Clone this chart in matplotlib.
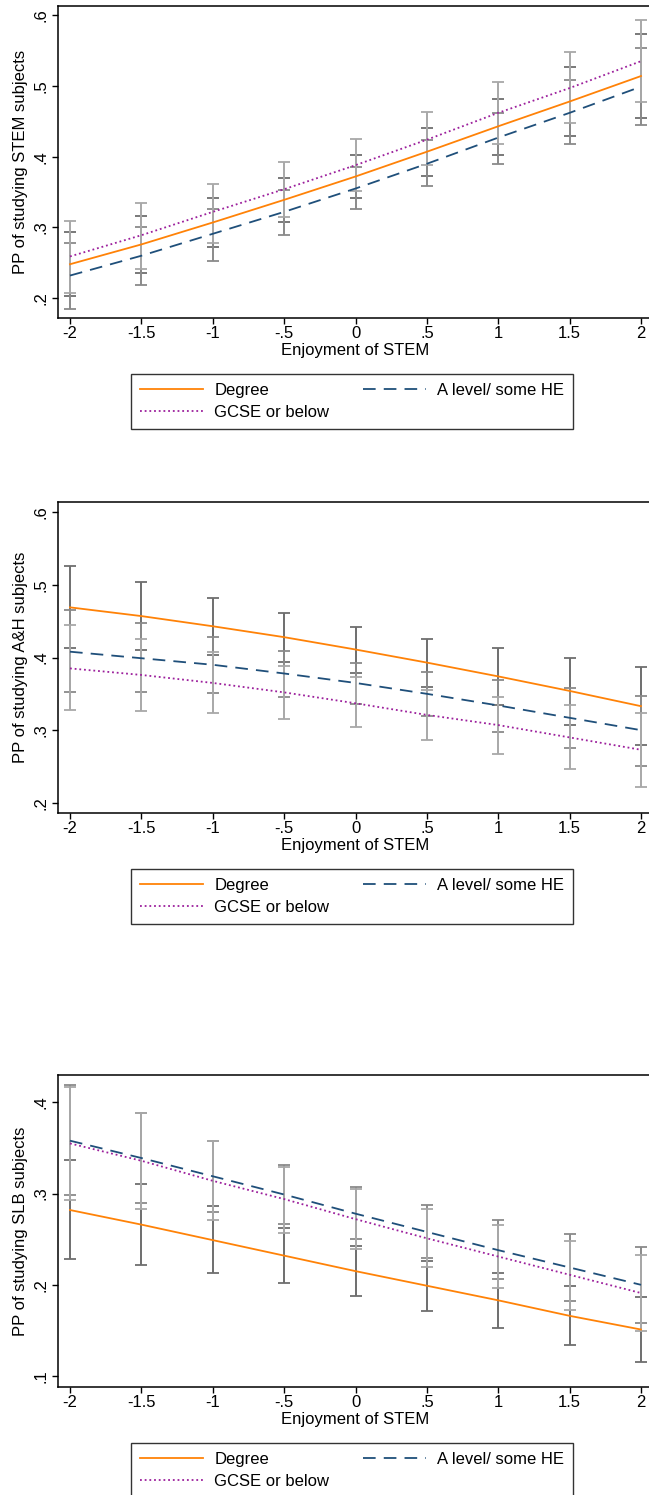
import matplotlib
matplotlib.use('Agg')
import matplotlib.pyplot as plt

plt.rcParams['font.family'] = ['Liberation Sans', 'DejaVu Sans']

# enjoyment of STEM (x positions)
enjoy = [-2, -1.5, -1, -0.5, 0, 0.5, 1, 1.5, 2]
xtick_labels = ['-2', '-1.5', '-1', '-.5', '0', '.5', '1', '1.5', '2']

# panel 1: STEM
stem_degree = [0.248, 0.276, 0.307, 0.339, 0.372, 0.407, 0.443, 0.478, 0.514]
stem_degree_lo = [0.203, 0.236, 0.272, 0.307, 0.341, 0.373, 0.402, 0.429, 0.455]
stem_degree_hi = [0.293, 0.316, 0.342, 0.370, 0.403, 0.441, 0.482, 0.527, 0.573]
stem_alevel = [0.232, 0.260, 0.291, 0.322, 0.355, 0.390, 0.427, 0.462, 0.499]
stem_alevel_lo = [0.185, 0.218, 0.253, 0.289, 0.326, 0.359, 0.390, 0.418, 0.445]
stem_alevel_hi = [0.278, 0.301, 0.326, 0.353, 0.386, 0.424, 0.462, 0.508, 0.554]
stem_gcse = [0.259, 0.289, 0.322, 0.354, 0.388, 0.424, 0.462, 0.497, 0.535]
stem_gcse_lo = [0.207, 0.241, 0.278, 0.315, 0.352, 0.388, 0.418, 0.448, 0.477]
stem_gcse_hi = [0.309, 0.335, 0.362, 0.392, 0.425, 0.463, 0.505, 0.548, 0.593]

# panel 2: A&H
ah_degree = [0.469, 0.457, 0.443, 0.428, 0.411, 0.393, 0.374, 0.354, 0.333]
ah_degree_lo = [0.413, 0.410, 0.404, 0.394, 0.379, 0.359, 0.335, 0.307, 0.279]
ah_degree_hi = [0.526, 0.504, 0.482, 0.461, 0.442, 0.426, 0.413, 0.400, 0.387]
ah_alevel = [0.408, 0.399, 0.390, 0.378, 0.365, 0.350, 0.334, 0.317, 0.300]
ah_alevel_lo = [0.352, 0.353, 0.351, 0.345, 0.336, 0.319, 0.298, 0.275, 0.251]
ah_alevel_hi = [0.466, 0.447, 0.428, 0.409, 0.393, 0.380, 0.369, 0.358, 0.347]
ah_gcse = [0.385, 0.376, 0.365, 0.352, 0.337, 0.321, 0.307, 0.290, 0.273]
ah_gcse_lo = [0.328, 0.327, 0.323, 0.315, 0.304, 0.287, 0.267, 0.246, 0.222]
ah_gcse_hi = [0.445, 0.425, 0.407, 0.388, 0.373, 0.355, 0.346, 0.334, 0.323]

# panel 3: SLB
slb_degree = [0.282, 0.266, 0.249, 0.232, 0.215, 0.199, 0.183, 0.166, 0.151]
slb_degree_lo = [0.228, 0.222, 0.213, 0.202, 0.188, 0.171, 0.153, 0.134, 0.115]
slb_degree_hi = [0.337, 0.310, 0.286, 0.262, 0.243, 0.226, 0.2125, 0.199, 0.187]
slb_alevel = [0.358, 0.339, 0.319, 0.299, 0.278, 0.258, 0.238, 0.219, 0.200]
slb_alevel_lo = [0.298, 0.290, 0.280, 0.267, 0.250, 0.229, 0.206, 0.182, 0.158]
slb_alevel_hi = [0.419, 0.388, 0.358, 0.331, 0.3075, 0.287, 0.271, 0.256, 0.241]
slb_gcse = [0.355, 0.336, 0.314, 0.294, 0.272, 0.251, 0.231, 0.211, 0.191]
slb_gcse_lo = [0.293, 0.283, 0.271, 0.257, 0.239, 0.219, 0.196, 0.172, 0.149]
slb_gcse_hi = [0.417, 0.388, 0.358, 0.329, 0.305, 0.283, 0.266, 0.248, 0.233]

W, H = 649, 1495
fig = plt.figure(figsize=(W / 100, H / 100), dpi=100)

panels = [
    # (top px, bottom px, ylim, yticks, ylabel, data)
    (6, 318, (0.172, 0.613), [0.2, 0.3, 0.4, 0.5, 0.6], 'PP of studying STEM subjects',
     [(stem_degree, stem_degree_lo, stem_degree_hi),
      (stem_alevel, stem_alevel_lo, stem_alevel_hi),
      (stem_gcse, stem_gcse_lo, stem_gcse_hi)]),
    (502, 813, (0.186, 0.614), [0.2, 0.3, 0.4, 0.5, 0.6], 'PP of studying A&H subjects',
     [(ah_degree, ah_degree_lo, ah_degree_hi),
      (ah_alevel, ah_alevel_lo, ah_alevel_hi),
      (ah_gcse, ah_gcse_lo, ah_gcse_hi)]),
    (1075, 1387, (0.088, 0.430), [0.1, 0.2, 0.3, 0.4], 'PP of studying SLB subjects',
     [(slb_degree, slb_degree_lo, slb_degree_hi),
      (slb_alevel, slb_alevel_lo, slb_alevel_hi),
      (slb_gcse, slb_gcse_lo, slb_gcse_hi)]),
]

line_styles = [
    dict(color='#ff8207', linestyle='-', label='Degree'),
    dict(color='#1f4f7a', linestyle=(0, (7, 4.5)), label='A level/ some HE'),
    dict(color='#9c1f9c', linestyle=(0, (1, 1.6)), label='GCSE or below'),
]
bar_colors = ['#6e6e6e', '#8a8a8a', '#a8a8a8']

left, right = 58, 653
for top, bottom, ylim, yticks, ylabel, data in panels:
    ax = fig.add_axes([left / W, 1 - bottom / H, (right - left) / W, (bottom - top) / H])
    handles = []
    for (est, lo, hi), bc in zip(data, bar_colors):
        err = [[e - l for e, l in zip(est, lo)], [h - e for e, h in zip(est, hi)]]
        ax.errorbar(enjoy, est, yerr=err, fmt='none', ecolor=bc, elinewidth=1.4,
                    capsize=4.5, capthick=1.3, zorder=2)
    for (est, lo, hi), st in zip(data, line_styles):
        h, = ax.plot(enjoy, est, linewidth=1.3, zorder=3, **st)
        handles.append(h)

    ax.set_xlim(-2.084, 2.084)
    ax.set_ylim(*ylim)
    ax.set_xticks(enjoy)
    ax.set_xticklabels(xtick_labels)
    ax.set_yticks(yticks)
    ax.set_yticklabels(['.' + str(int(round(v * 10))) for v in yticks], rotation=90, va='center')
    ax.tick_params(axis='both', direction='out', length=4, width=1, labelsize=12, pad=2)
    ax.tick_params(axis='y', pad=3)
    ax.set_xlabel('Enjoyment of STEM', fontsize=12, labelpad=1)
    ax.set_ylabel(ylabel, fontsize=12, labelpad=4)
    for sp in ax.spines.values():
        sp.set_linewidth(1.1)

    # legend below the axes: Degree, GCSE in first column, A level in second
    leg = ax.legend([handles[0], handles[2], handles[1]],
                    [line_styles[0]['label'], line_styles[2]['label'], line_styles[1]['label']],
                    ncol=2, loc='upper left', bbox_to_anchor=(131 / W, 1 - (bottom + 56) / H),
                    bbox_transform=fig.transFigure, fontsize=12, frameon=True, fancybox=False,
                    edgecolor='black', handlelength=3.8, handletextpad=0.65,
                    columnspacing=2.0, labelspacing=0.4, borderpad=0.55, borderaxespad=0)
    leg.get_frame().set_linewidth(1.0)

fig.savefig('out.png', dpi=100)
